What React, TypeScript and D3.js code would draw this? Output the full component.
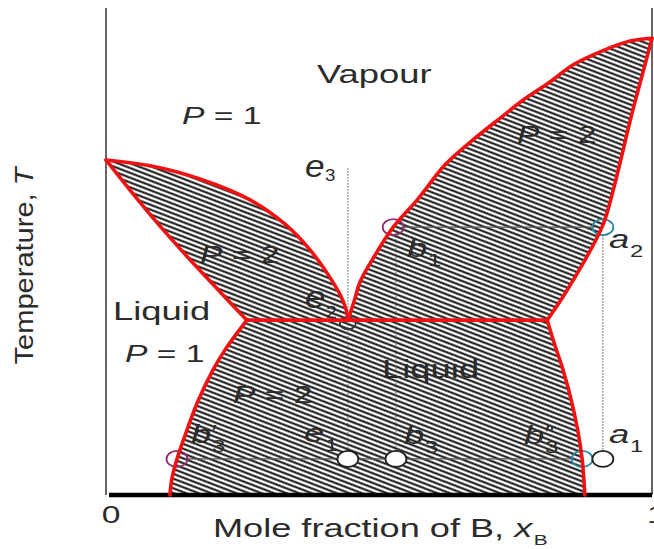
import React from "react";
import * as d3 from "d3";

const W = 654;
const H = 549;

// Each boundary: [mole fraction of B, temperature (arbitrary units, 0–100)]
const leftVapour: [number, number][] = [
  [0, 68.8], [0.081, 67.6], [0.172, 64.9], [0.264, 60.6], [0.328, 55.6],
  [0.374, 50.3], [0.407, 45.2], [0.429, 41.1], [0.44, 38.0], [0.443, 35.9],
];
const leftLiquid: [number, number][] = [
  [0, 68.8], [0.044, 62.6], [0.099, 55.2], [0.154, 48.3], [0.209, 41.7], [0.258, 35.9],
];
const rightVapour: [number, number][] = [
  [0.443, 35.9], [0.455, 40.0], [0.465, 43.7], [0.493, 49.3], [0.526, 55.0],
  [0.57, 60.6], [0.621, 67.8], [0.672, 72.9], [0.722, 77.4], [0.764, 81.1],
  [0.813, 84.8], [0.855, 88.3], [0.905, 91.0], [0.96, 93.2], [1, 93.8],
];
const rightLiquid: [number, number][] = [
  [1, 93.8], [0.982, 86.2], [0.965, 79.1], [0.947, 70.8], [0.929, 62.6],
  [0.91, 55.4], [0.874, 47.6], [0.837, 40.7], [0.808, 35.9],
];
const lowerLeft: [number, number][] = [
  [0.258, 35.9], [0.218, 29.8], [0.196, 25.7], [0.167, 18.9], [0.145, 12.3],
  [0.13, 7.4], [0.121, 3.5], [0.117, 0],
];
const lowerRight: [number, number][] = [
  [0.808, 35.9], [0.822, 30.8], [0.837, 25.7], [0.852, 19.5], [0.864, 13.3],
  [0.872, 7.4], [0.877, 0],
];

const eutecticT = 35.9;
const eutecticLeftX = 0.258;
const eutecticRightX = 0.808;
const e2X = 0.443;
const e3TopT = 67.1;

// Tie lines and the marked compositions on them
const upperTieT = 55.0;
const lowerTieT = 7.4;
const b1X = 0.526;
const isoplethB = 0.531;
const a2X = 0.91;
const b3PrimeX = 0.13;
const b3DoubleX = 0.872;

const xScale = d3.scaleLinear().domain([0, 1]).range([106, 652]);
const yScale = d3.scaleLinear().domain([0, 100]).range([495, 8]);

const lineGen = d3
  .line<[number, number]>()
  .x((d) => xScale(d[0]))
  .y((d) => yScale(d[1]))
  .curve(d3.curveCatmullRom.alpha(0.5));

const straight = d3
  .line<[number, number]>()
  .x((d) => xScale(d[0]))
  .y((d) => yScale(d[1]));

// Join several boundary segments into one closed outline
function region(segs: [number, number][][]): string {
  return (
    segs
      .map((s, i) => {
        const p = (s.length > 2 ? lineGen(s) : straight(s)) || "";
        return i === 0 ? p : "L" + p.slice(1);
      })
      .join("") + "Z"
  );
}

const rev = (a: [number, number][]) => a.slice().reverse();

const leftLens = region([
  leftVapour,
  [[e2X, eutecticT], [eutecticLeftX, eutecticT]],
  rev(leftLiquid),
]);
const rightLens = region([
  rightVapour,
  rightLiquid,
  [[eutecticRightX, eutecticT], [e2X, eutecticT]],
]);
const lowerRegion = region([
  [[eutecticLeftX, eutecticT], [eutecticRightX, eutecticT]],
  lowerRight,
  [[lowerRight[lowerRight.length - 1][0], 0], [lowerLeft[lowerLeft.length - 1][0], 0]],
  rev(lowerLeft),
]);

const FONT = "'Liberation Sans', Arial, Helvetica, sans-serif";
const INK = "#2b2b2b";
const RED = "#f01212";

type LblProps = {
  x: number;
  y: number;
  size: number;
  sx?: number;
  anchor?: "start" | "middle" | "end";
  italic?: boolean;
  children: React.ReactNode;
};

function Lbl({ x, y, size, sx = 1.4, anchor = "start", italic = false, children }: LblProps) {
  return (
    <text
      transform={`translate(${x},${y}) scale(${sx},1)`}
      fontSize={size}
      textAnchor={anchor}
      fill={INK}
      fontFamily={FONT}
      fontStyle={italic ? "italic" : "normal"}
      style={{ whiteSpace: "pre" }}
    >
      {children}
    </text>
  );
}

function Phase({ x, y, n }: { x: number; y: number; n: number }) {
  return (
    <Lbl x={x} y={y} size={24}>
      <tspan fontStyle="italic">P</tspan>
      {" = " + n}
    </Lbl>
  );
}

// Italic symbol with an upright subscript and an optional prime mark above it
function Sym({
  x, y, letter, sub, prime, size = 26, subSize = 17, sx = 1.4, subDy = 9,
}: {
  x: number; y: number; letter: string; sub: string; prime?: string;
  size?: number; subSize?: number; sx?: number; subDy?: number;
}) {
  return (
    <Lbl x={x} y={y} size={size} sx={sx}>
      <tspan fontStyle="italic">{letter}</tspan>
      <tspan fontSize={subSize} dy={subDy} dx={0.5}>{sub}</tspan>
      {prime ? (
        <tspan fontSize={20} dx={-subSize * 0.56} dy={-subDy - 4}>{prime}</tspan>
      ) : null}
    </Lbl>
  );
}

function Marker({ cx, cy, color, rx = 10.5, ry = 8, fill = "none" }: { cx: number; cy: number; color: string; rx?: number; ry?: number; fill?: string }) {
  return <ellipse cx={cx} cy={cy} rx={rx} ry={ry} fill={fill} stroke={color} strokeWidth={1.8} />;
}

export default function App() {
  const yE = yScale(eutecticT);
  const yUp = yScale(upperTieT);
  const yLow = yScale(lowerTieT);
  const dotted = { stroke: "#555", strokeWidth: 1.2, strokeDasharray: "1.4 1.6" };
  return (
    <svg
      width={W}
      height={H}
      viewBox={`0 0 ${W} ${H}`}
      style={{ position: "absolute", left: 0, top: 0, background: "#fff" }}
    >
      <defs>
        <pattern id="hatch" patternUnits="userSpaceOnUse" width={10} height={4.5} patternTransform="rotate(21)">
          <rect width={10} height={4.5} fill="#fff" />
          <line x1={0} y1={2.25} x2={10} y2={2.25} stroke="#0a0a0a" strokeWidth={1.95} />
        </pattern>
      </defs>
      <rect width={W} height={H} fill="#fff" />

      {/* two-phase regions */}
      <path d={leftLens} fill="url(#hatch)" />
      <path d={rightLens} fill="url(#hatch)" />
      <path d={lowerRegion} fill="url(#hatch)" />

      {/* frame */}
      <line x1={xScale(0)} y1={8} x2={xScale(0)} y2={yScale(0)} stroke="#666" strokeWidth={2} />
      <line x1={xScale(1)} y1={8} x2={xScale(1)} y2={yScale(0)} stroke="#666" strokeWidth={2} />
      <line x1={xScale(0) + 3} y1={yScale(0)} x2={xScale(1)} y2={yScale(0)} stroke="#000" strokeWidth={4.5} />

      {/* isopleths and tie lines */}
      <line x1={xScale(e2X)} y1={yScale(e3TopT)} x2={xScale(e2X)} y2={yLow - 8} {...dotted} />
      <line x1={xScale(isoplethB)} y1={yUp + 3} x2={xScale(isoplethB)} y2={yLow - 8} {...dotted} />
      <line x1={xScale(a2X)} y1={yUp + 8} x2={xScale(a2X)} y2={yLow - 8} {...dotted} />
      <line x1={xScale(b1X) + 8} y1={yUp} x2={xScale(a2X) - 8} y2={yUp} stroke="#555" strokeWidth={1.2} />
      <line x1={xScale(b3PrimeX) + 9} y1={yLow} x2={xScale(b3DoubleX) - 9} y2={yLow} stroke="#555" strokeWidth={1.2} />

      {/* state points */}
      <Marker cx={xScale(b1X)} cy={yUp} color="#8e2c6e" />
      <Marker cx={xScale(a2X)} cy={yUp} color="#2b87a8" />
      <Marker cx={xScale(b3PrimeX)} cy={yLow} color="#8e2c6e" />
      <Marker cx={xScale(b3DoubleX)} cy={yLow} color="#2b87a8" />
      <Marker cx={xScale(e2X)} cy={yLow} color="#222" fill="#fff" />
      <Marker cx={xScale(isoplethB)} cy={yLow} color="#222" fill="#fff" />
      <Marker cx={xScale(a2X)} cy={yLow} color="#222" fill="#fff" />
      <Marker cx={xScale(e2X)} cy={yE + 3} color="#333" rx={8} ry={6} />

      {/* phase boundaries */}
      <g fill="none" stroke={RED} strokeWidth={3.6} strokeLinejoin="round" strokeLinecap="round">
        <path d={lineGen(leftVapour) || ""} />
        <path d={lineGen(leftLiquid) || ""} />
        <path d={lineGen(rightVapour) || ""} />
        <path d={lineGen(rightLiquid) || ""} />
        <path d={lineGen(lowerLeft) || ""} />
        <path d={lineGen(lowerRight) || ""} />
        <path d={straight([[eutecticLeftX, eutecticT], [eutecticRightX, eutecticT]]) || ""} />
      </g>

      {/* region labels */}
      <Lbl x={317} y={83} size={26}>Vapour</Lbl>
      <Phase x={182} y={124} n={1} />
      <Phase x={200} y={263} n={2} />
      <Lbl x={113} y={320} size={26}>Liquid</Lbl>
      <Phase x={125} y={362} n={1} />
      <Phase x={517} y={143} n={2} />
      <Lbl x={382} y={378} size={26}>Liquid</Lbl>
      <Phase x={233} y={403} n={2} />

      {/* point labels */}
      <Sym x={305} y={177} letter="e" sub="3" size={32} subSize={17} sx={1.1} subDy={4} />
      <Sym x={305} y={308} letter="e" sub="2" size={32} subSize={17} sx={1.15} subDy={10} />
      <Sym x={407} y={257} letter="b" sub="1" />
      <Sym x={609} y={248} letter="a" sub="2" />
      <Sym x={191} y={443} letter="b" sub="3" prime="′" />
      <Sym x={304} y={442} letter="e" sub="1" />
      <Sym x={404} y={444} letter="b" sub="3" />
      <Sym x={524} y={444} letter="b" sub="3" prime="″" />
      <Sym x={609} y={443} letter="a" sub="1" />

      {/* axes text */}
      <Lbl x={xScale(0) + 5} y={523} size={24} anchor="middle">0</Lbl>
      <Lbl x={647} y={523} size={24}>1</Lbl>
      <Lbl x={213} y={537} size={26} sx={1.39}>
        {"Mole fraction of B, "}
        <tspan fontStyle="italic">x</tspan>
        <tspan fontSize={15} dy={8} dx={1}>B</tspan>
      </Lbl>
      <text
        transform="translate(33,266) rotate(-90)"
        fontSize={25}
        textAnchor="middle"
        fill={INK}
        fontFamily={FONT}
        textLength={197}
        lengthAdjust="spacingAndGlyphs"
        style={{ whiteSpace: "pre" }}
      >
        {"Temperature, "}
        <tspan fontStyle="italic">T</tspan>
      </text>
    </svg>
  );
}
